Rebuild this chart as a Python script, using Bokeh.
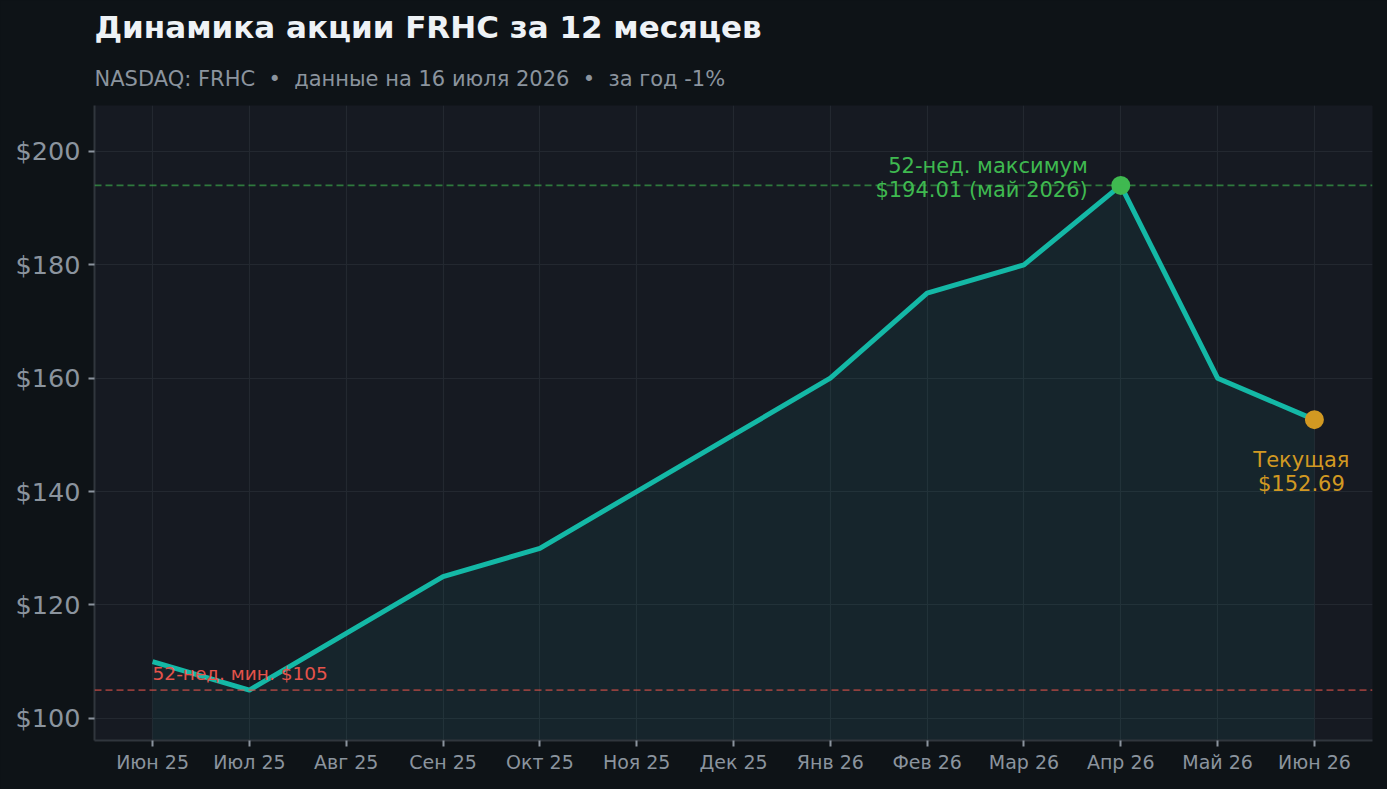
from bokeh.plotting import figure
from bokeh.models import ColumnDataSource, Span, Label, Title, FixedTicker, NumeralTickFormatter, Range1d
from bokeh.embed import file_html
from bokeh.resources import INLINE

months = ["Июн 25", "Июл 25", "Авг 25", "Сен 25", "Окт 25", "Ноя 25", "Дек 25",
          "Янв 26", "Фев 26", "Мар 26", "Апр 26", "Май 26", "Июн 26"]
prices = [110, 105, 115, 125, 130, 140, 150, 160, 175, 180, 194.01, 160, 152.69]
y_ticks = [100, 120, 140, 160, 180, 200]
low_52 = 105
high_52 = 194.01
high_idx = 10
current = 152.69
cur_idx = 12

title_text = "Динамика акции FRHC за 12 месяцев"
subtitle_text = "NASDAQ: FRHC \u00a0•\u00a0 данные на 16 июля 2026 \u00a0•\u00a0 за год -1%"
high_label = ["52-нед. максимум", "$194.01 (май 2026)"]
low_label = "52-нед. мин. $105"
cur_label = ["Текущая", "$152.69"]

BG = "#0e1317"
PANEL = "#161a22"
GRID = "#232830"
AXIS = "#30363d"
TICK_TXT = "#8b949e"
TEAL = "#14b8a6"
GREEN = "#3fb950"
RED = "#e5534b"
ORANGE = "#d29922"
FONT = "DejaVu Sans"

x = list(range(len(months)))
y_lo = 96.1
src = ColumnDataSource(dict(x=x, y=prices, base=[y_lo] * len(x)))

p = figure(width=1387, height=789, output_backend="svg", toolbar_location=None,
           x_range=Range1d(-0.6, 12.6), y_range=Range1d(y_lo, 208.1),
           background_fill_color=PANEL, border_fill_color=BG,
           min_border_left=94, min_border_right=15, min_border_bottom=49,
           min_border_top=105, outline_line_color=None)

p.add_layout(Title(text=subtitle_text, text_font_size="21px", text_color=TICK_TXT,
                   text_font=FONT, text_font_style="normal", align="left", standoff=29), "above")
p.add_layout(Title(text=title_text, text_font_size="31px", text_color="#eef2f6",
                   text_font=FONT, text_font_style="bold", align="left", standoff=12), "above")

p.varea(x="x", y1="base", y2="y", source=src, fill_color=TEAL, fill_alpha=0.08)

p.add_layout(Span(location=high_52, dimension="width", line_color=GREEN, line_alpha=0.6,
                  line_dash="7 4", line_width=1.8))
p.add_layout(Span(location=low_52, dimension="width", line_color=RED, line_alpha=0.6,
                  line_dash="7 4", line_width=1.8))

p.line("x", "y", source=src, line_color=TEAL, line_width=5, line_join="round")

p.scatter([x[high_idx]], [high_52], size=19, fill_color=GREEN, line_color=None)
p.scatter([x[cur_idx]], [current], size=19, fill_color=ORANGE, line_color=None)

for i, t in enumerate(high_label):
    p.add_layout(Label(x=x[high_idx], y=high_52, text=t, x_offset=-33, y_offset=19 - 24 * i,
                       text_align="right", text_baseline="middle", text_color=GREEN,
                       text_font_size="21px", text_font=FONT))
for i, t in enumerate(cur_label):
    p.add_layout(Label(x=x[cur_idx], y=current, text=t, x_offset=-13, y_offset=-40 - 24 * i,
                       text_align="center", text_baseline="middle", text_color=ORANGE,
                       text_font_size="21px", text_font=FONT))
p.add_layout(Label(x=0, y=low_52, text=low_label, x_offset=0, y_offset=17,
                   text_align="left", text_baseline="middle", text_color=RED,
                   text_font_size="18.5px", text_font=FONT))

p.xaxis.ticker = FixedTicker(ticks=x)
p.xaxis.major_label_overrides = {i: m for i, m in enumerate(months)}
p.yaxis.ticker = FixedTicker(ticks=y_ticks)
p.yaxis.formatter = NumeralTickFormatter(format="$0")

for ax in (p.xaxis, p.yaxis):
    ax.axis_line_color = AXIS
    ax.axis_line_width = 2
    ax.major_tick_line_color = TICK_TXT
    ax.major_tick_line_width = 2
    ax.major_tick_out = 6
    ax.major_tick_in = 0
    ax.minor_tick_line_color = None
    ax.major_label_text_color = TICK_TXT
    ax.major_label_text_font = FONT
p.xaxis.major_label_text_font_size = "19px"
p.yaxis.major_label_text_font_size = "25.5px"
p.xaxis.major_label_standoff = 4
p.yaxis.major_label_standoff = 8

p.xgrid.grid_line_color = GRID
p.ygrid.grid_line_color = GRID
p.xgrid.grid_line_width = 1.2
p.ygrid.grid_line_width = 1.2

html = file_html(p, INLINE)
html = html.replace("</head>", "<style>html,body{background:%s !important;}</style></head>" % BG, 1)
open("out.html", "w").write(html)
